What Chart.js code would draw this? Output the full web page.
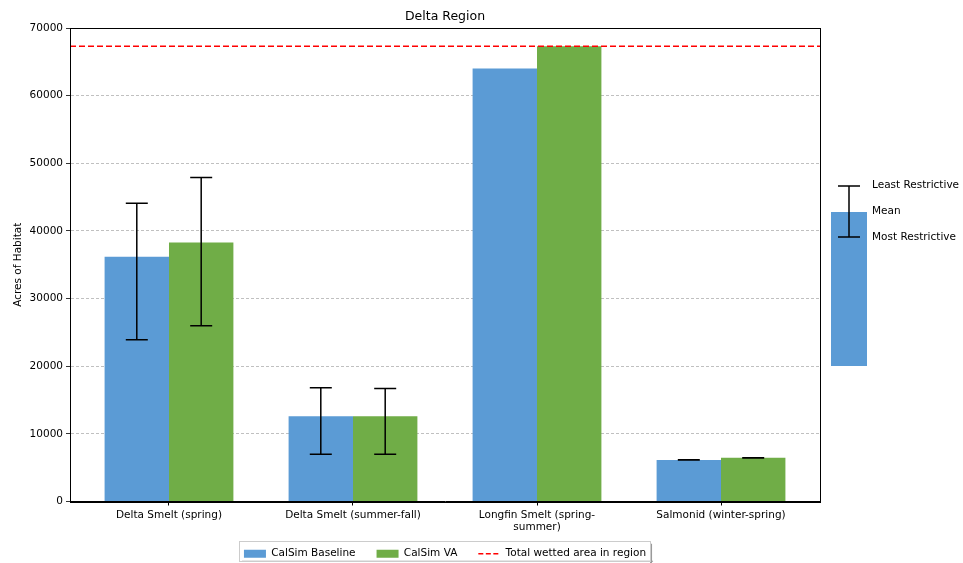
<!DOCTYPE html>
<html><head><meta charset="utf-8">
<script src="https://cdn.jsdelivr.net/npm/chart.js@4.4.1/dist/chart.umd.min.js"></script>
<style>html,body{margin:0;padding:0;background:#fff;overflow:hidden}</style>
</head><body>
<canvas id="c" width="963" height="563"></canvas>
<script>
const categories = ['Delta Smelt (spring)', 'Delta Smelt (summer-fall)', ['Longfin Smelt (spring-', 'summer)'], 'Salmonid (winter-spring)'];
const baseline = [36200, 12600, 64000, 6150];
const va = [38300, 12600, 67300, 6450];
const baselineLow = [23900, 7000, null, 6120];
const baselineHigh = [44100, 16800, null, 6180];
const vaLow = [26000, 7000, null, 6420];
const vaHigh = [47900, 16700, null, 6480];
const totalWetted = 67300;
const yTickValues = [0, 10000, 20000, 30000, 40000, 50000, 60000, 70000];
const xMin = -0.538, xMax = 3.538;

const FONT = 'DejaVu Sans';
const BLUE = '#5b9bd5', GREEN = '#70ad47';

const errorBars = {
  id: 'errorBars',
  afterLayout(chart) {
    const lg = chart.legend;
    if (lg) { const d = -7; lg.top += d; lg.bottom += d; }
  },
  afterDatasetsDraw(chart) {
    const ctx = chart.ctx, y = chart.scales.y;
    const sets = [[0, baselineLow, baselineHigh], [1, vaLow, vaHigh]];
    ctx.save();
    ctx.strokeStyle = '#000'; ctx.lineWidth = 1.5;
    sets.forEach(([di, lo, hi]) => {
      const meta = chart.getDatasetMeta(di);
      meta.data.forEach((bar, j) => {
        if (lo[j] == null || hi[j] == null) return;
        const x = bar.x, yl = y.getPixelForValue(lo[j]), yh = y.getPixelForValue(hi[j]);
        ctx.beginPath();
        ctx.moveTo(x, yl); ctx.lineTo(x, yh);
        ctx.moveTo(x - 11, yl); ctx.lineTo(x + 11, yl);
        ctx.moveTo(x - 11, yh); ctx.lineTo(x + 11, yh);
        ctx.stroke();
      });
    });
    const a = chart.chartArea;
    ctx.lineWidth = 1; ctx.strokeStyle = '#000';
    ctx.strokeRect(Math.round(a.left) + 0.5, Math.round(a.top) + 0.5, Math.round(a.right - a.left), Math.round(a.bottom - a.top));
    ctx.restore();
  },
  afterDraw(chart) {
    const ctx = chart.ctx, a = chart.chartArea;
    ctx.save();
    const kx = a.right + 11, kTop = a.top + 158;
    ctx.fillStyle = BLUE;
    ctx.fillRect(kx, a.top + 184, 36, 154);
    ctx.strokeStyle = '#000'; ctx.lineWidth = 1.5;
    const cx = kx + 18;
    ctx.beginPath();
    ctx.moveTo(cx, kTop); ctx.lineTo(cx, kTop + 51);
    ctx.moveTo(cx - 11, kTop); ctx.lineTo(cx + 11, kTop);
    ctx.moveTo(cx - 11, kTop + 51); ctx.lineTo(cx + 11, kTop + 51);
    ctx.stroke();
    ctx.fillStyle = '#000';
    ctx.font = '10.5px "' + FONT + '"';
    ctx.textBaseline = 'middle'; ctx.textAlign = 'left';
    ctx.fillText('Least Restrictive', kx + 41, kTop - 1);
    ctx.fillText('Mean', kx + 41, kTop + 25);
    ctx.fillText('Most Restrictive', kx + 41, kTop + 51);
    const hb = chart.legend.legendHitBoxes;
    if (hb && hb.length) {
      let l = Infinity, r = -Infinity, t = Infinity, b = -Infinity;
      hb.forEach(h => { l = Math.min(l, h.left); r = Math.max(r, h.left + h.width); t = Math.min(t, h.top); b = Math.max(b, h.top + h.height); });
      const mid = (t + b) / 2;
      l -= 5; r += 4; t = mid - 13; b = mid + 7;
      ctx.fillStyle = '#9a9a9a';
      ctx.fillRect(r, t + 3, 2, b - t);
      ctx.fillRect(l + 3, b, r - l, 1);
      ctx.strokeStyle = '#cccccc'; ctx.lineWidth = 1;
      ctx.strokeRect(Math.round(l) + 0.5, Math.round(t) + 0.5, Math.round(r - l), Math.round(b - t));
    }
    ctx.restore();
  }
};

new Chart(document.getElementById('c'), {
  data: {
    datasets: [
      { type: 'bar', label: 'CalSim Baseline', data: baseline.map((v, i) => ({x: i, y: v})), backgroundColor: BLUE, borderWidth: 0, pointStyle: 'rect', order: 1, categoryPercentage: 0.7, barPercentage: 1.0 },
      { type: 'bar', label: 'CalSim VA', data: va.map((v, i) => ({x: i, y: v})), backgroundColor: GREEN, borderWidth: 0, pointStyle: 'rect', order: 1, categoryPercentage: 0.7, barPercentage: 1.0 },
      { type: 'line', label: 'Total wetted area in region', data: [{x: xMin, y: totalWetted}, {x: xMax, y: totalWetted}], borderColor: '#ff0000', backgroundColor: '#ff0000', borderWidth: 1.5, borderDash: [6, 3], pointRadius: 0, pointStyle: 'line', fill: false, order: 0 }
    ]
  },
  options: {
    responsive: false,
    devicePixelRatio: 1,
    animation: false,
    layout: { padding: { left: 0, right: 143, top: 0, bottom: -13 } },
    plugins: {
      title: { display: true, text: 'Delta Region', fullSize: false, color: '#000', font: { family: FONT, size: 12.5, weight: 'normal' }, padding: { top: 9, bottom: 4 } },
      legend: {
        position: 'bottom', fullSize: false,
        labels: {
          usePointStyle: true, pointStyleWidth: 22, boxHeight: 8, padding: 21, color: '#000', font: { family: FONT, size: 10.5 },
          sort: (a, b) => a.datasetIndex - b.datasetIndex,
          generateLabels: (chart) => {
            const items = Chart.defaults.plugins.legend.labels.generateLabels(chart);
            items.forEach(it => {
              const ds = chart.data.datasets[it.datasetIndex];
              if (ds.type === 'line') { it.lineDash = [5, 2.5]; it.lineWidth = 1.5; it.strokeStyle = '#ff0000'; }
              else { it.lineWidth = 0; it.strokeStyle = ds.backgroundColor; }
            });
            return items;
          }
        }
      },
      tooltip: { enabled: false }
    },
    scales: {
      x: {
        type: 'linear', min: xMin, max: xMax, offset: false,
        afterBuildTicks: s => { s.ticks = categories.map((c, i) => ({ value: i })); },
        afterFit: s => { s.height = 33; },
        ticks: { callback: (v) => categories[v] !== undefined ? categories[v] : '', color: '#000', font: { family: FONT, size: 10.5 }, padding: 3, maxRotation: 0, autoSkip: false },
        grid: { offset: false, drawOnChartArea: false, drawTicks: true, tickLength: 4, tickColor: '#000' },
        border: { color: '#000', width: 1 }
      },
      y: {
        min: 0, max: 70000,
        afterBuildTicks: s => { s.ticks = yTickValues.map(v => ({ value: v })); },
        afterFit: s => { s.width = 70; },
        title: { display: true, text: 'Acres of Habitat', color: '#000', font: { family: FONT, size: 10.5 }, padding: { top: 12, bottom: 4 } },
        ticks: { callback: v => String(v), color: '#000', font: { family: FONT, size: 10.5 }, padding: 3 },
        grid: { color: '#b0b0b0', lineWidth: 0.8, tickLength: 4, tickColor: '#000', drawTicks: true },
        border: { color: '#000', width: 1, dash: [3, 2] }
      }
    }
  },
  plugins: [errorBars]
});
</script>
</body></html>
